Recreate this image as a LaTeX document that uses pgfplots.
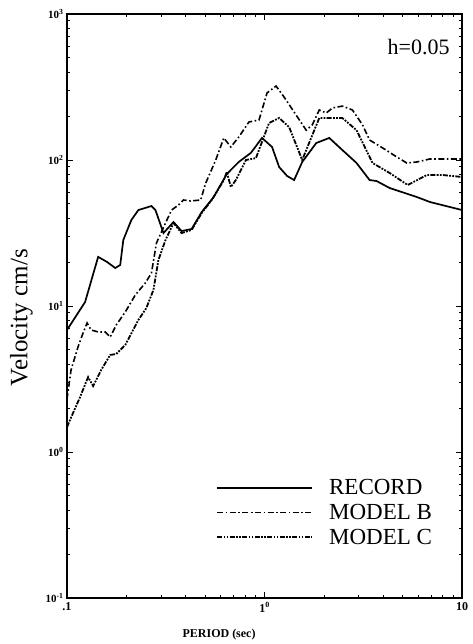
\documentclass[border=0pt]{standalone}
\usepackage{fontspec}
\setmainfont{Liberation Serif}
\usepackage{pgfplots}
\pgfplotsset{compat=1.18}
\begin{document}
\begin{tikzpicture}
\begin{axis}[
  scale only axis,
  width=395pt, height=584pt,
  xmode=log, ymode=log,
  xmin=0.1, xmax=10, ymin=0.1, ymax=1000,
  axis line style={line width=1.3pt},
  tick align=inside,
  major tick length=6pt, minor tick length=3pt,
  every tick/.style={black, line width=0.9pt},
  xtick={0.1,1,10},
  xticklabels={.1, {1\textsuperscript{0}}, 10},
  ytick={0.1,1,10,100,1000},
  yticklabels={{10\textsuperscript{-1}},{10\textsuperscript{0}},{10\textsuperscript{1}},{10\textsuperscript{2}},{10\textsuperscript{3}}},
  xticklabel style={font=\fontsize{12}{14}\selectfont\bfseries, yshift=-1pt},
  yticklabel style={font=\fontsize{11}{13}\selectfont\bfseries},
  xlabel={PERIOD (sec)},
  xlabel style={font=\fontsize{12}{14}\selectfont\bfseries, at={(axis description cs:0.385,0)}, anchor=north, yshift=-28pt},
  ylabel={Velocity cm/s},
  ylabel style={font=\fontsize{25}{28}\selectfont, at={(axis description cs:-0.078,0.48)}, anchor=south},
  legend style={draw=none, fill=none, at={(rel axis cs:0.37,0.21)}, anchor=north west,
    font=\fontsize{23}{25}\selectfont, row sep=4pt},
  legend cell align=left,
  legend image code/.code={\draw[#1] (0pt,0pt) -- (95pt,0pt);},
]
% RECORD
\addplot[black, line width=1.7pt] coordinates {
(0.1,6.85) (0.1235,10.65) (0.1438,21.7) (0.1598,20.0) (0.1755,18.2) (0.186,19.1)
(0.1928,28.3) (0.2117,38.8) (0.2298,45.4) (0.2676,48.4) (0.2804,45.4) (0.308,31.6)
(0.3463,37.6) (0.3803,32.6) (0.4276,33.7) (0.4808,44.0) (0.5534,55.8) (0.6446,80.2)
(0.7413,97) (0.8536,112) (0.9715,141.6) (1.092,122.8) (1.186,89.5) (1.302,77.7)
(1.413,72.9) (1.552,96.9) (1.828,130.7) (2.128,141.6) (2.478,117) (2.924,95.4)
(3.404,72.9) (3.693,71.8) (4.30,64.3) (5.90,55.8) (6.87,51.6) (10,45.4)
};
\addlegendentry{\hspace*{14pt}RECORD}
% MODEL B
\addplot[black, line width=1.6pt, dash pattern=on 6pt off 2.5pt on 1.6pt off 2.5pt] coordinates {
(0.1,2.3) (0.1048,3.64) (0.1137,5.24) (0.1206,6.53) (0.1264,7.65) (0.1325,6.85)
(0.1438,6.64) (0.1561,6.64) (0.1655,6.13) (0.1776,7.41) (0.1973,9.10) (0.2218,11.9)
(0.2494,14.4) (0.2676,16.8) (0.2838,27.0) (0.3153,37.0) (0.3383,45.4) (0.3671,49.2)
(0.3893,53.2) (0.4227,52.4) (0.4751,53.2) (0.504,69.5) (0.5665,100) (0.6222,141.6)
(0.6754,122.8) (0.7413,143.8) (0.834,182) (0.938,188) (1.03,288) (1.144,321)
(1.256,270) (1.446,203) (1.626,160) (1.745,174) (1.894,220) (2.056,210) (2.206,227)
(2.478,234) (2.788,220) (3.136,174) (3.404,137) (3.963,121) (4.67,105) (5.25,95.4)
(5.90,96.9) (6.87,101.6) (10,101.6)
};
\addlegendentry{\hspace*{14pt}MODEL B}
% MODEL C
\addplot[black, line width=1.8pt, dash pattern=on 5pt off 1.3pt on 1.8pt off 1.3pt on 1.8pt off 1.3pt] coordinates {
(0.1,1.48) (0.1073,1.85) (0.1165,2.38) (0.1279,3.26) (0.1356,2.83) (0.1489,3.64)
(0.1655,4.62) (0.1776,4.69) (0.1973,5.41) (0.2298,8.02) (0.2523,9.69) (0.274,12.9)
(0.2905,20.7) (0.3153,28.3) (0.3463,37.0) (0.3803,31.6) (0.4276,33.2) (0.4808,43.3)
(0.5405,53.2) (0.6222,72.9) (0.6446,82.8) (0.6754,65.3) (0.7161,72.9) (0.8053,100)
(0.905,103) (1.054,179) (1.186,194) (1.333,168) (1.552,100) (1.894,194) (2.478,194)
(2.924,160) (3.525,95.4) (4.30,81.5) (5.31,67.4) (6.63,78.9) (8.0,78.9) (10,76.5)
};
\addlegendentry{\hspace*{14pt}MODEL C}
\node[font=\fontsize{22}{24}\selectfont, anchor=center] at (rel axis cs:0.89,0.943) {h=0.05};
\end{axis}
\path ([xshift=-67pt,yshift=-46pt]current axis.south west) rectangle ([xshift=10pt,yshift=14pt]current axis.north east);
\end{tikzpicture}
\end{document}
